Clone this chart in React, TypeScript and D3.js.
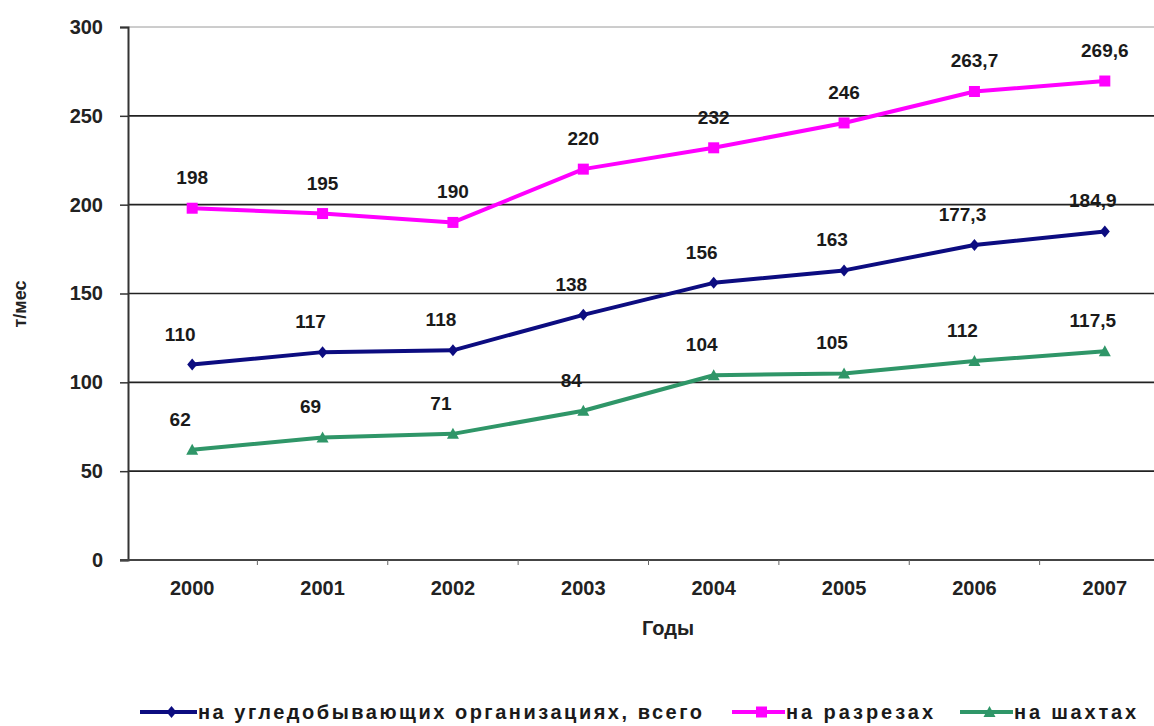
import React, { useEffect, useRef } from "react";
import * as d3 from "d3";

const years = ["2000", "2001", "2002", "2003", "2004", "2005", "2006", "2007"];
const totalValues = [110, 117, 118, 138, 156, 163, 177.3, 184.9];
const openPitValues = [198, 195, 190, 220, 232, 246, 263.7, 269.6];
const mineValues = [62, 69, 71, 84, 104, 105, 112, 117.5];
const yTicks = [0, 50, 100, 150, 200, 250, 300];

const seriesNames = ["на угледобывающих  организациях,  всего", "на разрезах", "на шахтах"];

const W = 1154;
const H = 726;
const FONT = "'Liberation Sans', Arial, sans-serif";

export default function App() {
  const ref = useRef<SVGSVGElement>(null);

  useEffect(() => {
    const svg = d3.select(ref.current);
    svg.selectAll("*").remove();

    const x = d3.scaleBand<string>().domain(years).range([127, 1170]);
    const y = d3.scaleLinear().domain([0, 300]).range([560, 27]);
    const cx = (yr: string) => (x(yr) as number) + x.bandwidth() / 2;

    const series = [
      { name: seriesNames[0], values: totalValues, color: "#0c0c80", marker: "diamond", dx: -12 },
      { name: seriesNames[1], values: openPitValues, color: "#ff00ff", marker: "square", dx: 0 },
      { name: seriesNames[2], values: mineValues, color: "#2f9668", marker: "triangle", dx: -12 },
    ];

    // gridlines
    yTicks.filter((t) => t > 0).forEach((t) => {
      svg.append("line")
        .attr("x1", 128).attr("x2", W)
        .attr("y1", y(t)).attr("y2", y(t))
        .attr("stroke", t === 300 ? "#9a9a9a" : "#222")
        .attr("stroke-width", t === 300 ? 1 : 1.6);
    });

    // y axis
    const yAxis = svg.append("g").attr("transform", "translate(128,0)")
      .call(d3.axisLeft(y).tickValues(yTicks).tickSize(8).tickPadding(17));
    yAxis.select(".domain").attr("stroke", "#333").attr("stroke-width", 2);
    yAxis.selectAll(".tick line").attr("stroke", "#333").attr("stroke-width", 1.5);
    yAxis.selectAll("text").attr("font-family", FONT).attr("font-size", 20)
      .attr("font-weight", "bold").attr("fill", "#222");

    // x axis
    svg.append("line").attr("x1", 120).attr("x2", W).attr("y1", y(0)).attr("y2", y(0))
      .attr("stroke", "#444").attr("stroke-width", 2);
    years.forEach((yr, i) => {
      if (i > 0) {
        const bx = x(yr) as number;
        svg.append("line").attr("x1", bx).attr("x2", bx).attr("y1", y(0)).attr("y2", y(0) + 5)
          .attr("stroke", "#666").attr("stroke-width", 1);
      }
      svg.append("text").attr("x", cx(yr)).attr("y", 595)
        .attr("text-anchor", "middle").attr("font-family", FONT).attr("font-size", 20)
        .attr("font-weight", "bold").attr("fill", "#222").text(yr);
    });

    // axis titles
    svg.append("text").attr("x", 668).attr("y", 635).attr("text-anchor", "middle")
      .attr("font-family", FONT).attr("font-size", 20).attr("font-weight", "bold")
      .attr("fill", "#222").text("Годы");
    svg.append("text").attr("transform", "translate(26,304) rotate(-90)")
      .attr("text-anchor", "middle").attr("font-family", FONT).attr("font-size", 18)
      .attr("font-weight", "bold").attr("fill", "#222").text("т/мес");

    const drawMarker = (g: any, kind: string, px: number, py: number, color: string) => {
      if (kind === "square") {
        g.append("rect").attr("x", px - 5.5).attr("y", py - 5.5).attr("width", 11).attr("height", 11).attr("fill", color);
      } else if (kind === "diamond") {
        g.append("path").attr("d", `M${px},${py - 6}L${px + 5},${py}L${px},${py + 6}L${px - 5},${py}Z`).attr("fill", color);
      } else {
        g.append("path").attr("d", `M${px},${py - 6}L${px + 6},${py + 5}L${px - 6},${py + 5}Z`).attr("fill", color);
      }
    };

    const line = d3.line<number>().x((_, i) => cx(years[i])).y((v) => y(v));

    series.forEach((s) => {
      const g = svg.append("g");
      g.append("path").datum(s.values).attr("d", line).attr("fill", "none")
        .attr("stroke", s.color).attr("stroke-width", 4).attr("stroke-linejoin", "round");
      s.values.forEach((v, i) => drawMarker(g, s.marker, cx(years[i]), y(v), s.color));
    });

    // data labels
    series.forEach((s) => {
      s.values.forEach((v, i) => {
        svg.append("text").attr("x", cx(years[i]) + s.dx).attr("y", y(v) - 24)
          .attr("text-anchor", "middle").attr("font-family", FONT).attr("font-size", 19)
          .attr("fill", "#1a1a1a").attr("font-weight", "bold")
          .text(String(v).replace(".", ","));
      });
    });

    // legend
    const legendLineStart = [140, 732, 960];
    const legendLineEnd = [197, 785, 1013];
    const legendTextLen = [504, 147, 122];
    series.forEach((s, i) => {
      const ly = 712;
      svg.append("line").attr("x1", legendLineStart[i]).attr("x2", legendLineEnd[i]).attr("y1", ly).attr("y2", ly)
        .attr("stroke", s.color).attr("stroke-width", 4);
      drawMarker(svg, s.marker, (legendLineStart[i] + legendLineEnd[i]) / 2 + 3, ly, s.color);
      svg.append("text").attr("x", legendLineEnd[i] + 1).attr("y", ly + 7)
        .attr("font-family", FONT).attr("font-size", 20).attr("font-weight", "bold")
        .attr("textLength", legendTextLen[i]).attr("lengthAdjust", "spacing")
        .attr("fill", "#1a1a1a").text(s.name);
    });
  }, []);

  return (
    <svg ref={ref} width={W} height={H}
      style={{ position: "absolute", left: 0, top: 0, background: "#fff" }} />
  );
}
